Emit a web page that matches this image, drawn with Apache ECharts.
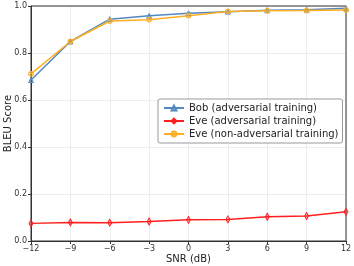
<!DOCTYPE html>
<html><head><meta charset="utf-8">
<script src="https://cdn.jsdelivr.net/npm/echarts@6/dist/echarts.min.js"></script>
<style>html,body{margin:0;padding:0;background:#fff}#c{width:354px;height:266px}</style>
</head><body><div id="c"></div>
<script>
const snr = [-12, -9, -6, -3, 0, 3, 6, 9, 12];
const bobAdv = [0.685, 0.849, 0.944, 0.958, 0.969, 0.976, 0.982, 0.984, 0.99];
const eveAdv = [0.075, 0.079, 0.078, 0.083, 0.09, 0.092, 0.103, 0.106, 0.124];
const eveNonAdv = [0.711, 0.849, 0.936, 0.942, 0.959, 0.977, 0.98, 0.981, 0.983];
const names = ['Bob (adversarial training)', 'Eve (adversarial training)', 'Eve (non-adversarial training)'];
const colors = ['#5288c2', '#ff1f1f', '#ffaf1f'];
const fills = ['rgba(82,136,194,0.35)', 'rgba(255,31,31,0.35)', 'rgba(255,175,31,0.45)'];

const pair = arr => snr.map((x, i) => [x, arr[i]]);
const font = 'DejaVu Sans';
const chart = echarts.init(document.getElementById('c'), null, {renderer: 'canvas'});
const mk = (i, data, symbol, size) => ({
  name: names[i], type: 'line', data: pair(data), symbol, symbolSize: size,
  lineStyle: {color: colors[i], width: 1.5},
  itemStyle: {color: fills[i], borderColor: colors[i], borderWidth: 1},
  emphasis: {disabled: true}, animation: false
});
chart.setOption({
  animation: false,
  grid: {left: 31, right: 8, top: 6, bottom: 25, containLabel: false, outerBoundsMode: 'none'},
  xAxis: {
    type: 'value', min: -12, max: 12, interval: 3,
    name: 'SNR (dB)', nameLocation: 'middle', nameGap: 13, nameMoveOverlap: false,
    nameTextStyle: {fontFamily: font, fontSize: 10, color: '#222'},
    axisLine: {show: true, onZero: false, lineStyle: {color: '#333', width: 1}},
    axisTick: {show: true, length: 3, lineStyle: {color: '#333'}},
    axisLabel: {fontFamily: font, fontSize: 8, color: '#333', margin: 4,
      formatter: v => String(v).replace('-', '\u2212')},
    splitLine: {show: true, lineStyle: {color: '#e8e8e8', width: 0.8}}
  },
  yAxis: {
    type: 'value', min: 0, max: 1, interval: 0.2,
    name: 'BLEU Score', nameLocation: 'middle', nameGap: 18, nameMoveOverlap: false,
    nameTextStyle: {fontFamily: font, fontSize: 10, color: '#222'},
    axisLine: {show: true, onZero: false, lineStyle: {color: '#333', width: 1}},
    axisTick: {show: true, length: 3, lineStyle: {color: '#333'}},
    axisLabel: {fontFamily: font, fontSize: 8, color: '#333', margin: 4,
      formatter: v => v.toFixed(1)},
    splitLine: {show: true, lineStyle: {color: '#e8e8e8', width: 0.8}}
  },
  legend: {
    data: names, orient: 'vertical', left: 158, top: 99,
    itemWidth: 20, itemHeight: 6, itemGap: 3,
    padding: [4, 4, 4, 5],
    backgroundColor: '#fff', borderColor: '#999', borderWidth: 1, borderRadius: 2,
    textStyle: {fontFamily: font, fontSize: 10, color: '#222'}
  },
  graphic: [{type: 'rect', shape: {x: 31, y: 6, width: 315, height: 235},
    style: {fill: 'none', stroke: '#333', lineWidth: 1}, silent: true, z: 1}],
  series: [
    mk(0, bobAdv, 'triangle', 5),
    mk(1, eveAdv, 'diamond', [4, 7]),
    mk(2, eveNonAdv, 'circle', 5)
  ]
});
</script></body></html>
